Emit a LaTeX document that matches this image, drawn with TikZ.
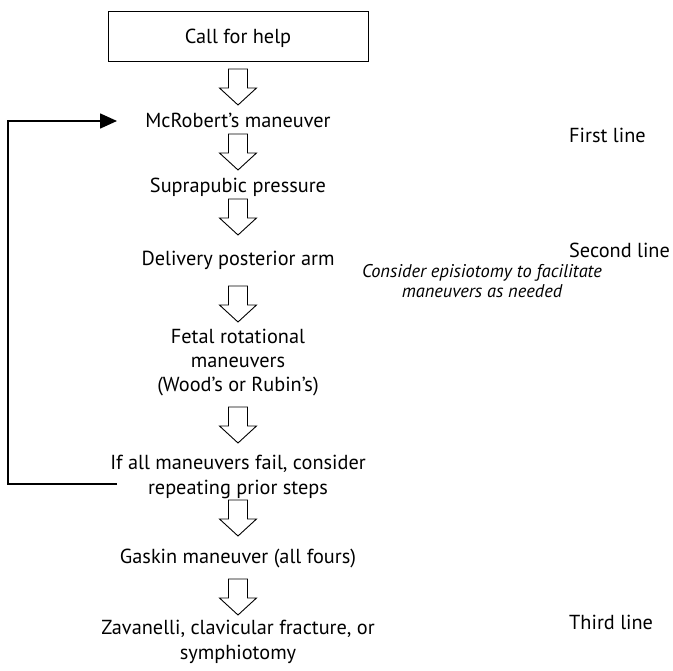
\documentclass[tikz,border=0pt]{standalone}
\usepackage{fontspec}
\setmainfont{PT Sans}
\usetikzlibrary{arrows.meta}

\tikzset{
  txt/.style={font=\fontsize{20.3}{24.5}\selectfont, align=center, inner sep=0pt, anchor=base},
  side/.style={font=\fontsize{20.3}{24}\selectfont, inner sep=0pt, anchor=base west},
  note/.style={font=\fontsize{18.4}{20}\selectfont\itshape, align=center, inner sep=0pt, anchor=base},
  framebox/.style={draw, line width=1pt, minimum width=260pt, minimum height=50pt, inner sep=0pt},
  loopline/.style={line width=1.6pt, -{Triangle[length=17pt,width=15pt]}},
  hollow arrow/.pic={
    \draw[line width=0.9pt, fill=white, line join=miter]
      (-9.5,0) -- (9.5,0) -- (9.5,19) -- (18.5,19) -- (0,36)
      -- (-18.5,19) -- (-9.5,19) -- cycle;
  }
}

\begin{document}
\begin{tikzpicture}[x=1pt,y=-1pt]
\useasboundingbox (0,0) rectangle (673,671);

% main column (multi-line nodes are placed by the baseline of their last line)
\node[framebox] (help) at (238,37) {};
\node[txt] (helpt) at (238,44) {Call for help};
\node[txt] (mcr) at (238,128) {McRobert’s maneuver};
\node[txt] (supra) at (238,193) {Suprapubic pressure};
\node[txt] (deliv) at (238,266) {Delivery posterior arm};
\node[txt] (fetal) at (238,392) {Fetal rotational\\maneuvers\\(Wood’s or Rubin’s)};
\node[txt] (ifall) at (238,494) {If all maneuvers fail, consider\\repeating prior steps};
\node[txt] (gaskin) at (238,563) {Gaskin maneuver (all fours)};
\node[txt] (zav) at (238,659) {Zavanelli, clavicular fracture, or\\symphiotomy};

% hollow arrows between steps
\pic at (238,69) {hollow arrow};
\pic at (238,134) {hollow arrow};
\pic at (238,199) {hollow arrow};
\pic at (238,286) {hollow arrow};
\pic at (238,407) {hollow arrow};
\pic at (238,500) {hollow arrow};
\pic at (238,579) {hollow arrow};

% side labels
\node[side] (first) at (569,143) {First line};
\node[side] (second) at (569,258) {Second line};
\node[side] (third) at (569,629) {Third line};
\node[note] (epis) at (482,298) {Consider episiotomy to facilitate\\maneuvers as needed};

% loop back to the first maneuver
\coordinate (loopstart) at (117,484);
\coordinate (loopend) at (117,121);
\draw[loopline] (loopstart) -- (8,484) -- (8,121) -- (loopend);
\end{tikzpicture}
\end{document}
